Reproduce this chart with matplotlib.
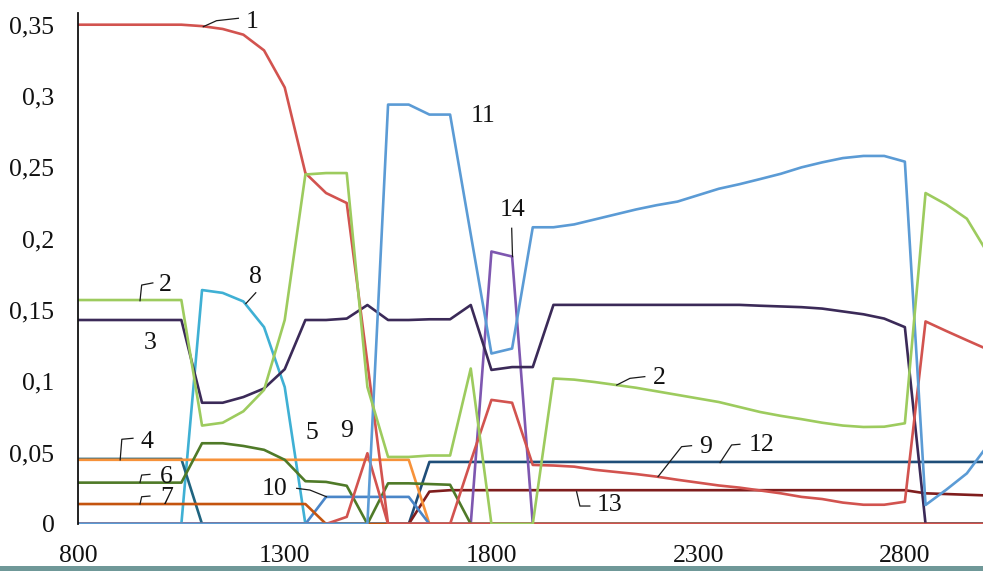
import matplotlib
matplotlib.use("Agg")
import matplotlib.pyplot as plt
from matplotlib.patches import Rectangle

plt.rcParams['font.family'] = ['Liberation Serif', 'DejaVu Serif']

# ---------------- data ----------------
x = [800, 850, 900, 950, 1000, 1050, 1100, 1150, 1200, 1250, 1300, 1350, 1400, 1450,
     1500, 1550, 1600, 1650, 1700, 1750, 1800, 1850, 1900, 1950, 2000, 2050, 2100,
     2150, 2200, 2250, 2300, 2350, 2400, 2450, 2500, 2550, 2600, 2650, 2700, 2750,
     2800, 2850, 2900, 2950, 3000]

s1 = [0.35, 0.35, 0.35, 0.35, 0.35, 0.35, 0.349, 0.347, 0.343, 0.332, 0.306, 0.246,
      0.232, 0.225, 0.113] + [0.0] * 30

s2 = [0.157, 0.157, 0.157, 0.157, 0.157, 0.157, 0.069, 0.071, 0.079, 0.094, 0.143,
      0.245, 0.246, 0.246, 0.096, 0.047, 0.047, 0.048, 0.048, 0.109, 0.0, 0.0, 0.0,
      0.102, 0.1012, 0.0995, 0.0975, 0.0955, 0.093, 0.0905, 0.088, 0.0855, 0.082,
      0.0785, 0.0758, 0.0735, 0.071, 0.069, 0.068, 0.0682, 0.0706, 0.232, 0.224,
      0.214, 0.19]

s3 = [0.143, 0.143, 0.143, 0.143, 0.143, 0.143, 0.085, 0.085, 0.089, 0.095, 0.1085,
      0.143, 0.143, 0.144, 0.1535, 0.143, 0.143, 0.1435, 0.1435, 0.1535, 0.108, 0.110,
      0.110, 0.1536, 0.1536, 0.1536, 0.1536, 0.1536, 0.1536, 0.1536, 0.1536, 0.1536,
      0.1536, 0.153, 0.1525, 0.152, 0.151, 0.149, 0.147, 0.144, 0.138, 0.0, 0.0, 0.0,
      0.0]

s4 = [0.045] * 17 + [0.0] * 28

s5 = [0.0456] * 6 + [0.0] * 39

s6 = [0.029, 0.029, 0.029, 0.029, 0.029, 0.029, 0.0566, 0.0566, 0.0547, 0.052, 0.045,
      0.030, 0.0295, 0.0268, 0.0, 0.0285, 0.0285, 0.028, 0.0275] + [0.0] * 26

s7 = [0.014] * 12 + [0.0] * 33

s8 = [0.0] * 6 + [0.164, 0.162, 0.156, 0.138, 0.096] + [0.0] * 34

s9 = [0.0] * 13 + [0.005, 0.0496, 0.0, 0.0, 0.0, 0.0, 0.044, 0.087, 0.085, 0.0414,
      0.041, 0.0402, 0.038, 0.0365, 0.035, 0.0332, 0.031, 0.029, 0.027, 0.0255,
      0.0235, 0.0215, 0.019, 0.0175, 0.015, 0.0135, 0.0135, 0.0156, 0.142, 0.1353,
      0.1288, 0.1224]

s10 = [0.0] * 12 + [0.019, 0.019, 0.019, 0.019, 0.019] + [0.0] * 28

s11 = [0.0] * 15 + [0.294, 0.294, 0.287, 0.287, 0.203, 0.1195, 0.123, 0.208, 0.208,
      0.210, 0.2135, 0.217, 0.2205, 0.2235, 0.226, 0.2305, 0.235, 0.2382, 0.2418,
      0.2455, 0.250, 0.2535, 0.2565, 0.258, 0.258, 0.254, 0.0133, 0.024, 0.0355,
      0.055]

s12 = [0.0] * 17 + [0.0435] * 28

s13 = [0.0] * 17 + [0.0227] + [0.0237] * 23 + [0.0215, 0.021, 0.0205, 0.020]

s14 = [0.0] * 20 + [0.191, 0.1875] + [0.0] * 23

yticks = [0, 0.05, 0.1, 0.15, 0.2, 0.25, 0.3, 0.35]
ytick_labels = ["0", "0,05", "0,1", "0,15", "0,2", "0,25", "0,3", "0,35"]
xticks = [800, 1300, 1800, 2300, 2800]
xtick_labels = ["800", "1300", "1800", "2300", "2800"]

# ---------------- figure ----------------
W, H = 983, 571
fig = plt.figure(figsize=(W / 100, H / 100), dpi=100)
ax = fig.add_axes([78 / W, 47 / H, (W - 78) / W, (524 - 13) / H])

series = [
    (s12, '#1f4e79'),
    (s13, '#7f1d1d'),
    (s14, '#7e57b0'),
    (s8, '#3fb0d4'),
    (s5, '#1f6480'),
    (s4, '#f7923a'),
    (s6, '#4f7a28'),
    (s10, '#4a86c8'),
    (s7, '#c4540f'),
    (s3, '#3b2a58'),
    (s9, '#d2534f'),
    (s1, '#d2534f'),
    (s11, '#5b9bd5'),
    (s2, '#9dcb5e'),
]
for ys, col in series:
    ax.plot(x, ys, color=col, lw=1.9, solid_joinstyle='round')

ax.set_xlim(800, 2989)
ax.set_ylim(0, 0.3582)
ax.set_yticks(yticks)
ax.set_yticklabels(ytick_labels)
ax.set_xticks(xticks)
ax.set_xticklabels(xtick_labels)
ax.tick_params(axis='both', length=0, labelsize=18.5, colors='#111111')
ax.tick_params(axis='y', pad=17)
ax.tick_params(axis='x', pad=15)
for side in ('top', 'right', 'bottom'):
    ax.spines[side].set_visible(False)
ax.spines['left'].set_color('#111111')
ax.spines['left'].set_linewidth(1.3)

# ---------------- labels with leader lines ----------------
labels = [
    ("1", 1220, 0.3522),
    ("2", 1010, 0.1675),
    ("8", 1230, 0.1734),
    ("3", 974, 0.1267),
    ("4", 966, 0.0573),
    ("6", 1014, 0.0332),
    ("7", 1014, 0.0180),
    ("5", 1365, 0.0636),
    ("9", 1450, 0.0654),
    ("10", 1276, 0.0243),
    ("11", 1779, 0.2860),
    ("14", 1851, 0.2200),
    ("2", 2206, 0.1021),
    ("9", 2319, 0.0542),
    ("12", 2453, 0.0554),
    ("13", 2086, 0.0133),
]
for t, lx, ly in labels:
    ax.text(lx, ly, t, ha='center', va='center', fontsize=18.5, color='#111111')

leaders = [
    ([1103, 1135, 1188], [0.3486, 0.3528, 0.3545]),
    ([950, 954, 981], [0.1565, 0.1675, 0.1690]),
    ([1206, 1230], [0.1545, 0.1621]),
    ([902, 906, 933], [0.0449, 0.0594, 0.0601]),
    ([950, 954, 974], [0.0292, 0.0343, 0.0348]),
    ([950, 954, 974], [0.0140, 0.0191, 0.0196]),
    ([1329, 1361, 1401], [0.0250, 0.0238, 0.0191]),
    ([1849, 1851], [0.2073, 0.1874]),
    ([2103, 2135, 2171], [0.0974, 0.1021, 0.1033]),
    ([2203, 2260, 2284], [0.0332, 0.0542, 0.0549]),
    ([2353, 2381, 2401], [0.0430, 0.0554, 0.0559]),
    ([2006, 2014, 2038], [0.0226, 0.0126, 0.0126]),
]
for lxs, lys in leaders:
    ax.plot(lxs, lys, color='#1a1a1a', lw=0.9)

fig.add_artist(Rectangle((0, 0), 1, 5 / H, transform=fig.transFigure,
                         color='#6f9898', lw=0))

fig.savefig("out.png", dpi=100)
